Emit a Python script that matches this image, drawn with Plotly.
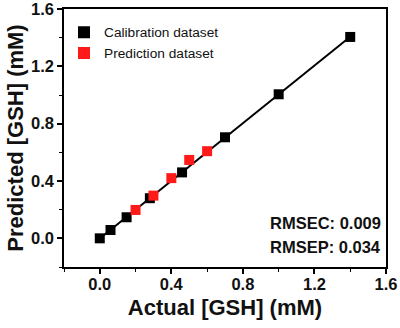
import numpy as np
import plotly.graph_objects as go

# Calibration dataset
cal_actual = [0.0, 0.06, 0.15, 0.28, 0.46, 0.70, 1.00, 1.40]
cal_pred = [0.0, 0.058, 0.147, 0.28, 0.46, 0.705, 1.005, 1.405]

# Prediction dataset
pred_actual = [0.20, 0.30, 0.40, 0.50, 0.60]
pred_pred = [0.198, 0.298, 0.42, 0.547, 0.608]
pred_err = [0.012, 0.015, 0.012, 0.025, 0.012]

x_ticks = [0.0, 0.4, 0.8, 1.2, 1.6]
y_ticks = [0.0, 0.4, 0.8, 1.2, 1.6]

slope, intercept = np.polyfit(cal_actual, cal_pred, 1)
fit_x = [min(cal_actual), max(cal_actual)]
fit_y = [slope * v + intercept for v in fit_x]

fig = go.Figure()
fig.add_trace(go.Scatter(x=fit_x, y=fit_y, mode="lines",
                         line=dict(color="black", width=2), showlegend=False))
fig.add_trace(go.Scatter(x=cal_actual, y=cal_pred, mode="markers", name="Calibration dataset",
                         marker=dict(symbol="square", size=10, color="black")))
fig.add_trace(go.Scatter(x=pred_actual, y=pred_pred, mode="markers", name="Prediction dataset",
                         marker=dict(symbol="square", size=10, color="#ff1a1a"),
                         error_y=dict(type="data", array=pred_err, color="#ff1a1a", thickness=2, width=3)))

axis_common = dict(showgrid=False, zeroline=False, showline=True, linecolor="black", linewidth=1.5,
                   mirror=True, ticks="outside", ticklen=5, tickwidth=1.5, tickcolor="black",
                   tickfont=dict(family="Liberation Sans, Arial", size=16.5, color="#111", weight="bold"),
                   minor=dict(ticks="outside", ticklen=3, tickwidth=1, tickcolor="black", dtick=0.2),
                   range=[-0.2, 1.6], tickformat=".1f", automargin=False,
                   ticklabeloverflow="allow")

fig.update_layout(
    width=400, height=328,
    margin=dict(l=64, r=14, t=9, b=61, autoexpand=False),
    plot_bgcolor="white", paper_bgcolor="white",
    font=dict(family="Liberation Sans, Arial", color="#111"),
    xaxis=dict(axis_common, tickvals=x_ticks, ticklabelstandoff=-4,
               title=dict(text="Actual [GSH] (mM)", font=dict(size=22, weight="bold"), standoff=8)),
    yaxis=dict(axis_common, tickvals=y_ticks,
               title=dict(text="Predicted [GSH] (mM)", font=dict(size=22, weight="bold"), standoff=1)),
    legend=dict(x=0.0, y=0.97, xanchor="left", yanchor="top", bgcolor="rgba(0,0,0,0)",
                font=dict(size=13.7, color="#111"), itemsizing="constant", tracegroupgap=0),
    showlegend=True,
)

fig.add_annotation(x=0.99, y=0.17, xref="paper", yref="paper", xanchor="right", yanchor="middle",
                   text="<b>RMSEC: 0.009</b>", showarrow=False, font=dict(size=16.5, color="#111"))
fig.add_annotation(x=0.99, y=0.078, xref="paper", yref="paper", xanchor="right", yanchor="middle",
                   text="<b>RMSEP: 0.034</b>", showarrow=False, font=dict(size=16.5, color="#111"))

fig.write_html("out.html", config={"displayModeBar": False},
               post_script="document.body.style.margin='0';")
